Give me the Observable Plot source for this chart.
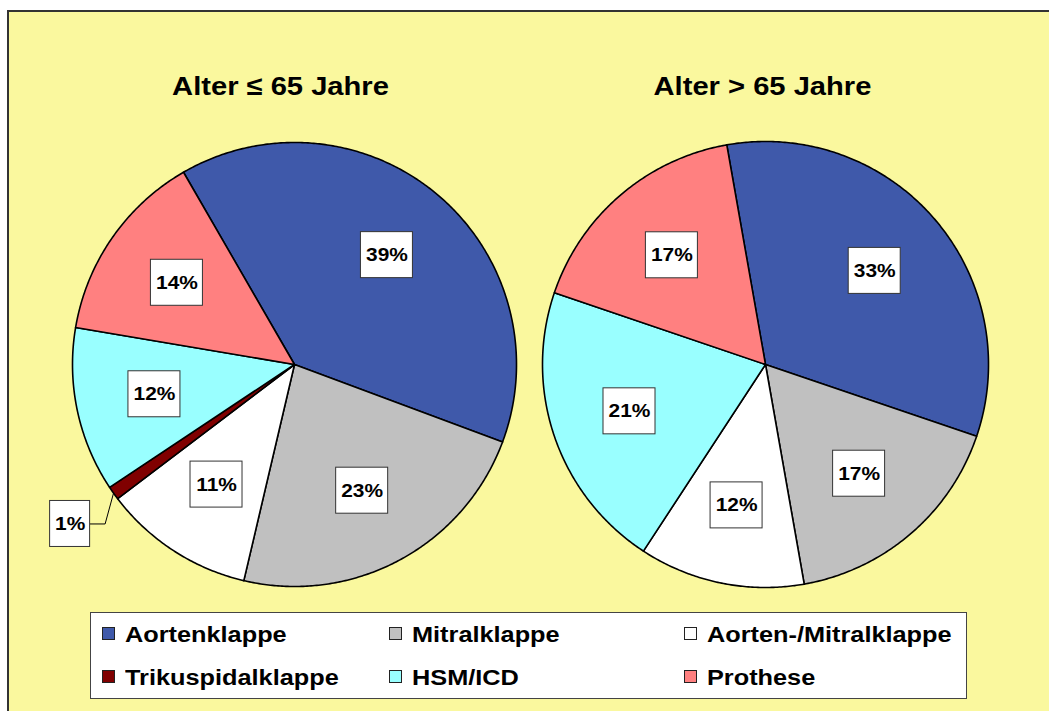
<!DOCTYPE html>
<html><head><meta charset="utf-8">
<script src="https://cdn.jsdelivr.net/npm/d3@7"></script>
<script src="https://cdn.jsdelivr.net/npm/@observablehq/plot@0.6"></script>
<style>
html,body{margin:0;padding:0;background:#fff;width:1049px;height:711px;overflow:hidden;font-family:"Liberation Sans",Arial,sans-serif;}
#frame{position:absolute;left:7px;top:10px;width:1042px;height:701px;background:#FAF89E;border-top:2px solid #333;border-left:2px solid #333;box-sizing:border-box}
#chart{position:absolute;left:0;top:0}
#legend{position:absolute;left:90px;top:612px;width:877px;height:87px;box-sizing:border-box;background:#fff;border:1px solid #444;}
.item{position:absolute;font-weight:bold;font-size:22px;line-height:22px;white-space:nowrap;color:#000;transform:scaleX(1.15);transform-origin:0 0}
.sw{position:absolute;width:13px;height:13px;box-sizing:border-box;border:1px solid #222}
</style></head><body>
<div id="frame"></div><div id="chart"></div><div id="legend"></div>
<script>
const categories = ["Aortenklappe", "Mitralklappe", "Aorten-/Mitralklappe", "Trikuspidalklappe", "HSM/ICD", "Prothese"];
const colors = ["#3F59AA", "#C0C0C0", "#FFFFFF", "#800000", "#99FFFF", "#FF8080"];
const pieTitles = ["Alter \u2264 65 Jahre", "Alter > 65 Jahre"];
const valuesUnder65 = [39, 23, 11, 1, 12, 14];
const valuesOver65 = [33, 17, 12, 0, 21, 17];

const seriesValues = [valuesUnder65, valuesOver65];
const layout = [
  {cx: 294, cy: 364, r: 222, start: -30, titleX: 280},
  {cx: 765, cy: 364, r: 223, start: -10, titleX: 762}
];

const slicePts = [], labels = [], leaders = [];
seriesValues.forEach((vals, p) => {
  const L = layout[p];
  const s = L.start * Math.PI / 180;
  const arcs = d3.pie().sort(null).value(d => d).startAngle(s).endAngle(s + 2 * Math.PI)(vals);
  const P = (ang, rr) => ({x: L.cx + rr * Math.sin(ang), y: L.cy - rr * Math.cos(ang)});
  arcs.forEach((a, i) => {
    if (!(a.value > 0)) return;
    const key = p + "-" + i;
    const cat = categories[i];
    slicePts.push({key, cat, ...P(0, 0)});
    const n = Math.max(2, Math.ceil((a.endAngle - a.startAngle) / (Math.PI / 360)));
    for (let k = 0; k <= n; k++) slicePts.push({key, cat, ...P(a.startAngle + (a.endAngle - a.startAngle) * k / n, L.r)});
    slicePts.push({key, cat, ...P(0, 0)});
    const mid = (a.startAngle + a.endAngle) / 2;
    const text = a.value + "%";
    const w = 28 + 12 * String(a.value).length;
    const small = a.value < 3;
    const c = P(mid, small ? L.r * 1.24 : L.r * 0.645);
    labels.push({text, x: c.x, y: c.y, x1: c.x - w / 2, x2: c.x + w / 2, y1: c.y - 23, y2: c.y + 23});
    if (small) {
      const e = P(mid, L.r);
      const side = Math.sin(mid) < 0 ? 1 : -1;
      leaders.push({key, x: c.x + side * w / 2, y: c.y}, {key, x: c.x + side * (w / 2 + 15), y: c.y}, {key, ...e});
    }
  });
});
const titles = pieTitles.map((t, i) => ({text: t, x: layout[i].titleX, y: 86}));

const chart = Plot.plot({
  width: 1049, height: 711, margin: 0,
  x: {domain: [0, 1049], range: [0, 1049], axis: null},
  y: {domain: [0, 711], range: [0, 711], axis: null},
  color: {domain: categories, range: colors},
  style: {background: "transparent", fontFamily: "'Liberation Sans', Arial, sans-serif"},
  marks: [
    Plot.line(slicePts, {x: "x", y: "y", z: "key", fill: "cat", stroke: "#000", strokeWidth: 1.6, strokeLinejoin: "round", curve: "linear"}),
    Plot.line(leaders, {x: "x", y: "y", z: "key", stroke: "#000", strokeWidth: 1}),
    Plot.rect(labels, {x1: "x1", x2: "x2", y1: "y1", y2: "y2", fill: "#fff", stroke: "#333", strokeWidth: 1}),
    Plot.text(labels, {x: "x", y: "y", text: "text", fontSize: 19, fontWeight: "bold", fill: "#000"}),
    Plot.text(titles, {x: "x", y: "y", text: "text", fontSize: 26.5, fontWeight: "bold", fill: "#000"})
  ]
});
// slight horizontal stretch of the glyphs, as in the original rendering
d3.select(chart).selectAll("text").each(function () {
  const t = this.getAttribute("transform");
  if (t) this.setAttribute("transform", t + " scale(1.1,1)");
});
document.getElementById("chart").appendChild(chart);

const legend = document.getElementById("legend");
const colSw = [11, 298, 593], rowSw = [14, 57];
categories.forEach((c, i) => {
  const col = i % 3, row = Math.floor(i / 3);
  const sw = document.createElement("div");
  sw.className = "sw";
  sw.style.left = colSw[col] + "px";
  sw.style.top = rowSw[row] + "px";
  sw.style.background = colors[i];
  legend.appendChild(sw);
  const t = document.createElement("div");
  t.className = "item";
  t.textContent = c;
  t.style.left = (colSw[col] + 23) + "px";
  t.style.top = (rowSw[row] - 3) + "px";
  legend.appendChild(t);
});
</script>
</body></html>
